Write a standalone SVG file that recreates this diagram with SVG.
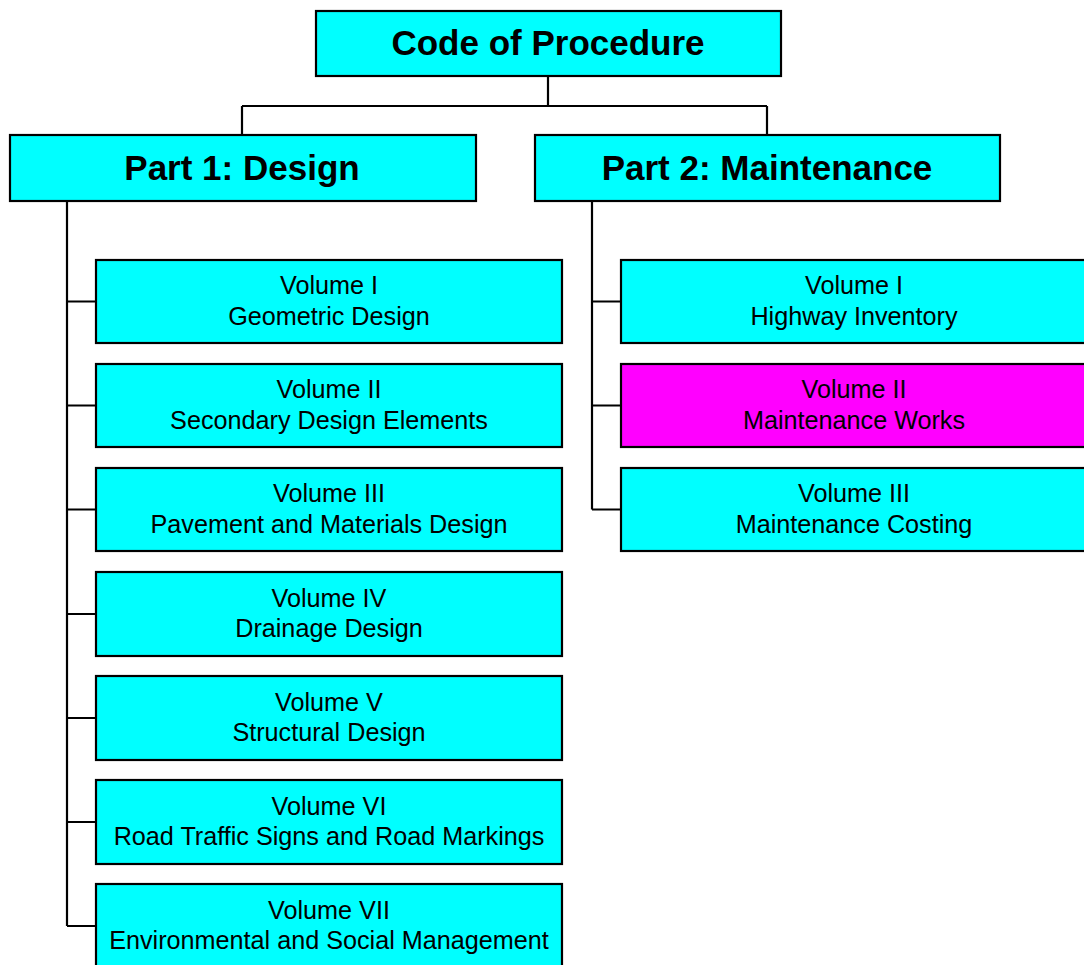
<svg xmlns="http://www.w3.org/2000/svg" width="1084" height="965" viewBox="0 0 1084 965">
<style>
.box{fill:#00ffff;stroke:#000;stroke-width:2.2}
.mag{fill:#ff00ff;stroke:#000;stroke-width:2.2}
.t{font-family:"Liberation Sans",Arial,sans-serif;font-size:25.2px;text-anchor:middle;fill:#000}
.h{font-family:"Liberation Sans",Arial,sans-serif;font-size:35px;font-weight:bold;text-anchor:middle;fill:#000}
.c{fill:none;stroke:#000;stroke-width:2.2}
</style>
<rect width="1084" height="965" fill="#fff"/>
<g id="connectors">
<path class="c" d="M548,77 V106 M242,106 H767 M242,106 V135 M767,106 V135"/>
<path class="c" d="M67,201 V926 M67,301.5 H96 M67,405.5 H96 M67,509.5 H96 M67,614 H96 M67,718 H96 M67,822 H96 M67,926 H96"/>
<path class="c" d="M592,201 V509.5 M592,301.5 H621 M592,405.5 H621 M592,509.5 H621"/>
</g>
<g id="root"><rect class="box" x="316" y="11" width="465" height="65"/><text class="h" x="548" y="55">Code of Procedure</text></g>
<g id="part1"><rect class="box" x="10" y="135" width="466" height="66"/><text class="h" x="242" y="180">Part 1: Design</text></g>
<g id="part2"><rect class="box" x="535" y="135" width="465" height="66"/><text class="h" x="767" y="180">Part 2: Maintenance</text></g>
<g id="d1"><rect class="box" x="96" y="260" width="466" height="83"/><text class="t" x="329" y="294">Volume I</text><text class="t" x="329" y="325">Geometric Design</text></g>
<g id="d2"><rect class="box" x="96" y="364" width="466" height="83"/><text class="t" x="329" y="398">Volume II</text><text class="t" x="329" y="429">Secondary Design Elements</text></g>
<g id="d3"><rect class="box" x="96" y="468" width="466" height="83"/><text class="t" x="329" y="502">Volume III</text><text class="t" x="329" y="533">Pavement and Materials Design</text></g>
<g id="d4"><rect class="box" x="96" y="572" width="466" height="84"/><text class="t" x="329" y="607">Volume IV</text><text class="t" x="329" y="637">Drainage Design</text></g>
<g id="d5"><rect class="box" x="96" y="676" width="466" height="84"/><text class="t" x="329" y="711">Volume V</text><text class="t" x="329" y="741">Structural Design</text></g>
<g id="d6"><rect class="box" x="96" y="780" width="466" height="84"/><text class="t" x="329" y="815">Volume VI</text><text class="t" x="329" y="845">Road Traffic Signs and Road Markings</text></g>
<g id="d7"><rect class="box" x="96" y="884" width="466" height="84"/><text class="t" x="329" y="919">Volume VII</text><text class="t" x="329" y="949">Environmental and Social Management</text></g>
<g id="m1"><rect class="box" x="621" y="260" width="466" height="83"/><text class="t" x="854" y="294">Volume I</text><text class="t" x="854" y="325">Highway Inventory</text></g>
<g id="m2"><rect class="mag" x="621" y="364" width="466" height="83"/><text class="t" x="854" y="398">Volume II</text><text class="t" x="854" y="429">Maintenance Works</text></g>
<g id="m3"><rect class="box" x="621" y="468" width="466" height="83"/><text class="t" x="854" y="502">Volume III</text><text class="t" x="854" y="533">Maintenance Costing</text></g>
</svg>
